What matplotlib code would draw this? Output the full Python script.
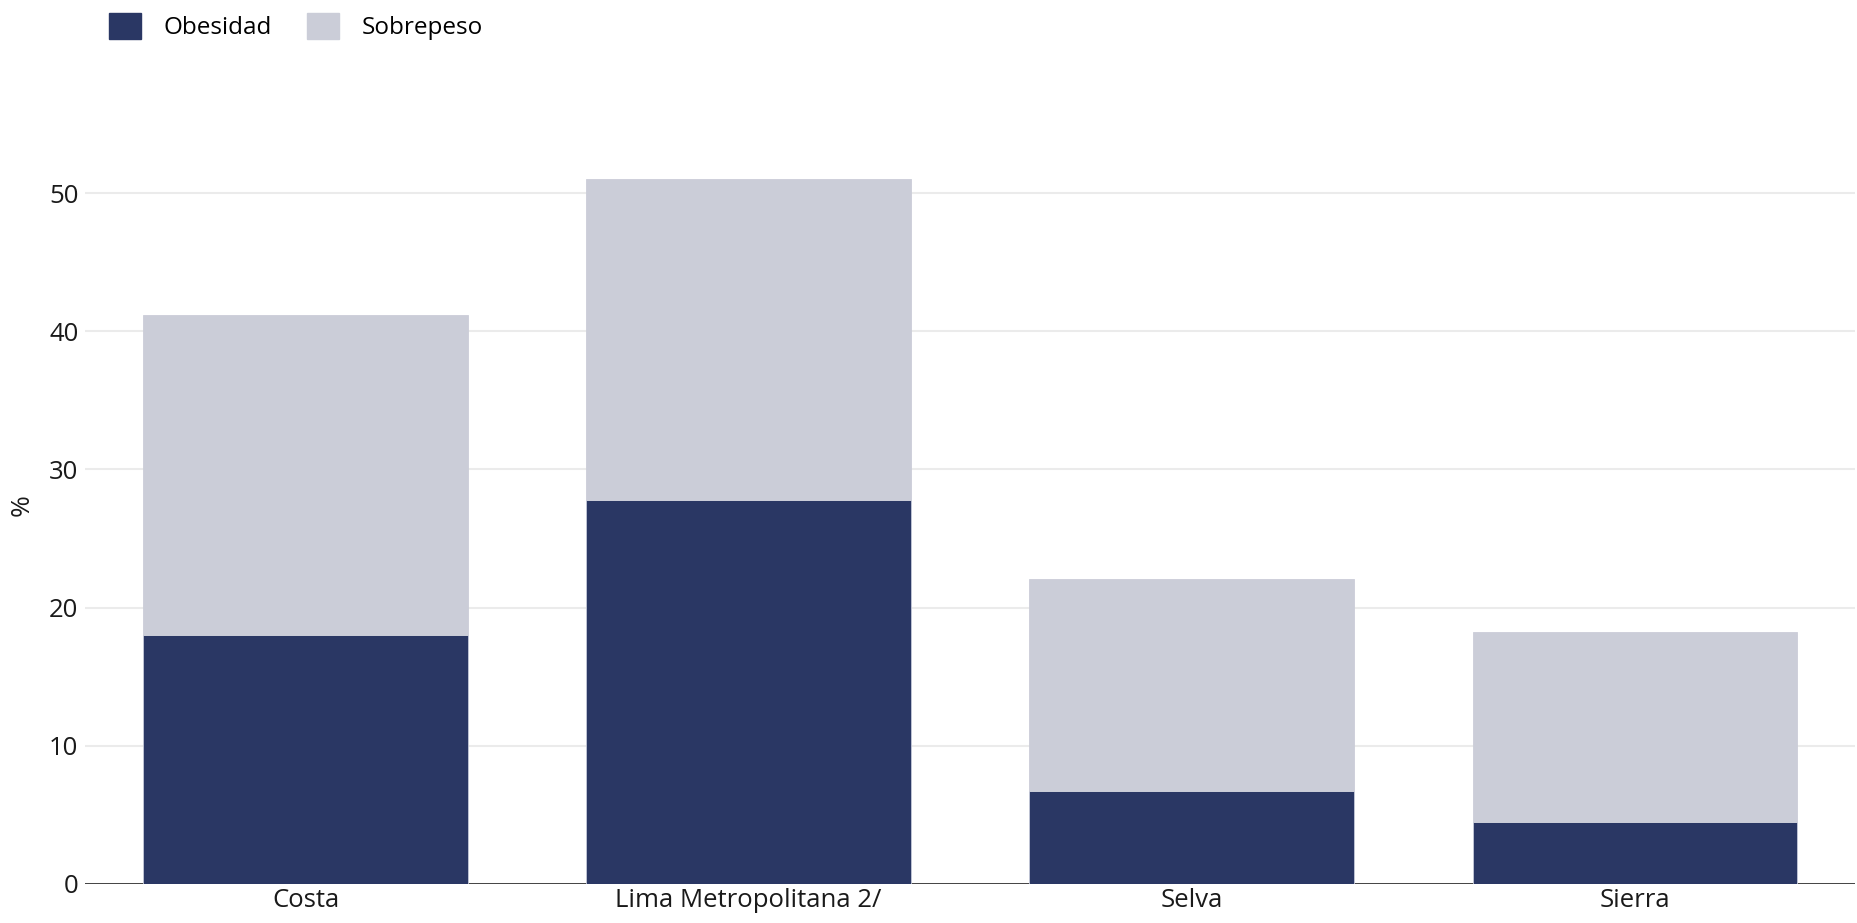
import matplotlib
matplotlib.use("Agg")
import matplotlib.pyplot as plt
import numpy as np

plt.rcParams["font.family"] = ["Open Sans", "DejaVu Sans"]

regions = ["Costa", "Lima Metropolitana 2/", "Selva", "Sierra"]
obesidad = [18.0, 27.8, 6.7, 4.45]
sobrepeso = [23.15, 23.2, 15.35, 13.8]
yticks = [0, 10, 20, 30, 40, 50]

DARK = "#2a3764"
LIGHT = "#cbcdd8"

fig = plt.figure(figsize=(18.57, 9.23), dpi=100)
ax = fig.add_axes([0.046, 0.0425, 0.953, 0.82])

x = np.arange(len(regions))
width = 0.733
ax.bar(x, obesidad, width, color=DARK, edgecolor="#c5c9d9", linewidth=0.6, zorder=3)
ax.bar(x, sobrepeso, width, bottom=obesidad, color=LIGHT, edgecolor=LIGHT,
       linewidth=0.6, zorder=3)

ax.set_xlim(-0.497, 3.497)
ax.set_ylim(0, 54.8)
ax.set_yticks(yticks)
ax.set_yticklabels([str(t) for t in yticks], fontsize=18.5, color="#1a1a1a")
ax.set_xticks(x)
ax.set_xticklabels(regions, fontsize=18.5, color="#1a1a1a")
ax.tick_params(axis="both", length=0, pad=5)
ax.tick_params(axis="x", pad=3)

ax.grid(axis="y", color="#ebebeb", linewidth=1.5, zorder=0)
for side in ["top", "right", "left", "bottom"]:
    ax.spines[side].set_visible(False)
ax.axhline(0, color="#333333", linewidth=2, zorder=2)

ax.set_ylabel("%", fontsize=19, color="#1a1a1a", labelpad=10)

handles = [plt.Rectangle((0, 0), 1, 1, color=DARK),
           plt.Rectangle((0, 0), 1, 1, color=LIGHT)]
fig.legend(handles, ["Obesidad", "Sobrepeso"], loc="upper left",
           bbox_to_anchor=(0.047, 1.01), ncol=2, frameon=False, fontsize=17.5,
           handlelength=1.3, handleheight=1.3, handletextpad=0.95,
           columnspacing=1.45)

fig.savefig("out.png", dpi=100)
